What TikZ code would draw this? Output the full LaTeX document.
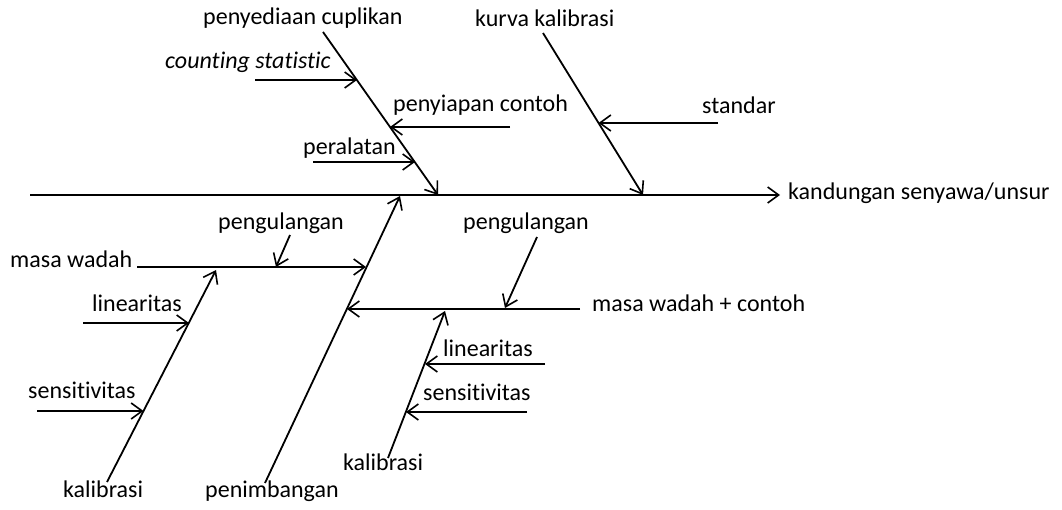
\documentclass[tikz,border=0pt]{standalone}
\usepackage{fontspec}
\setmainfont{Carlito}[Ligatures={NoCommon}]
\usetikzlibrary{arrows.meta}
\begin{document}
\begin{tikzpicture}[x=1pt,y=-1pt,
  lbl/.style={inner sep=0pt, anchor=mid west, font=\fontsize{24}{28}\selectfont},
  ln/.style={line width=1.8pt},
  arr/.style={ln, -{Straight Barb[length=11pt,width=16pt,line width=1.6pt]}}]
\useasboundingbox (0,0) rectangle (1062,510);
% labels
\node[lbl] (pc)  at (203,22)  {penyediaan cuplikan};
\node[lbl] (cs)  at (165,66)  {\itshape counting statistic};
\node[lbl] (pyc) at (393,109) {penyiapan contoh};
\node[lbl] (pr)  at (303,152) {peralatan};
\node[lbl] (kk)  at (475,24)  {kurva kalibrasi};
\node[lbl] (st)  at (702,111) {standar};
\node[lbl] (ef)  at (788,197) {kandungan senyawa/unsur};
\node[lbl] (pgl) at (218,227) {pengulangan};
\node[lbl] (mw)  at (10,265)  {masa wadah};
\node[lbl] (pgr) at (463,227) {pengulangan};
\node[lbl] (mwc) at (592,309) {masa wadah + contoh};
\node[lbl] (lnl) at (92,309)  {linearitas};
\node[lbl] (snl) at (28,396)  {sensitivitas};
\node[lbl] (kl)  at (63,495)  {kalibrasi};
\node[lbl] (pn)  at (205,495) {penimbangan};
\node[lbl] (lnr) at (443,354) {linearitas};
\node[lbl] (snr) at (423,398) {sensitivitas};
\node[lbl] (kr)  at (343,468) {kalibrasi};
% coordinates
\coordinate (m0) at (30,195);
\coordinate (mE) at (780,195);
\coordinate (a0) at (323,32);  \coordinate (a1) at (438,195);
\coordinate (b0) at (543,33);  \coordinate (b1) at (643,195);
\coordinate (p0) at (265,483); \coordinate (p1) at (400,196);
\coordinate (c0) at (107,482); \coordinate (c1) at (216,270);
\coordinate (d0) at (388,458); \coordinate (d1) at (445,311);
\coordinate (csT) at (255,80);  \coordinate (csH) at (357,80);
\coordinate (pyT) at (510,127); \coordinate (pyH) at (390,127);
\coordinate (prT) at (313,162); \coordinate (prH) at (415,162);
\coordinate (stT) at (718,123); \coordinate (stH) at (598.5,123);
\coordinate (mwH) at (366,267);
\coordinate (pglT) at (290,235); \coordinate (pglH) at (276,267);
\coordinate (mwcT) at (580,309); \coordinate (mwcH) at (347,309);
\coordinate (pgrT) at (537,237); \coordinate (pgrH) at (505,308);
\coordinate (lnlT) at (83,323);  \coordinate (lnlH) at (189,323);
\coordinate (snlT) at (37,411);  \coordinate (snlH) at (143.5,411);
\coordinate (lnrT) at (545,364); \coordinate (lnrH) at (425,364);
\coordinate (snrT) at (527,412); \coordinate (snrH) at (406,412);
% spine
\draw[arr] (m0) -- (mE);
% top bones
\draw[arr] (a0) -- (a1);
\draw[arr] (b0) -- (b1);
\draw[arr] (csT) -- (csH);
\draw[arr] (pyT) -- (pyH);
\draw[arr] (prT) -- (prH);
\draw[arr] (stT) -- (stH);
% bottom bones
\draw[arr] (p0) -- (p1);
\draw[arr] (c0) -- (c1);
\draw[arr] (d0) -- (d1);
\draw[arr] ([xshift=5pt]mw.east |- mwH) -- (mwH);
\draw[arr] (pglT) -- (pglH);
\draw[arr] (mwcT) -- (mwcH);
\draw[arr] (pgrT) -- (pgrH);
\draw[arr] (lnlT) -- (lnlH);
\draw[arr] (snlT) -- (snlH);
\draw[arr] (lnrT) -- (lnrH);
\draw[arr] (snrT) -- (snrH);
\end{tikzpicture}
\end{document}
